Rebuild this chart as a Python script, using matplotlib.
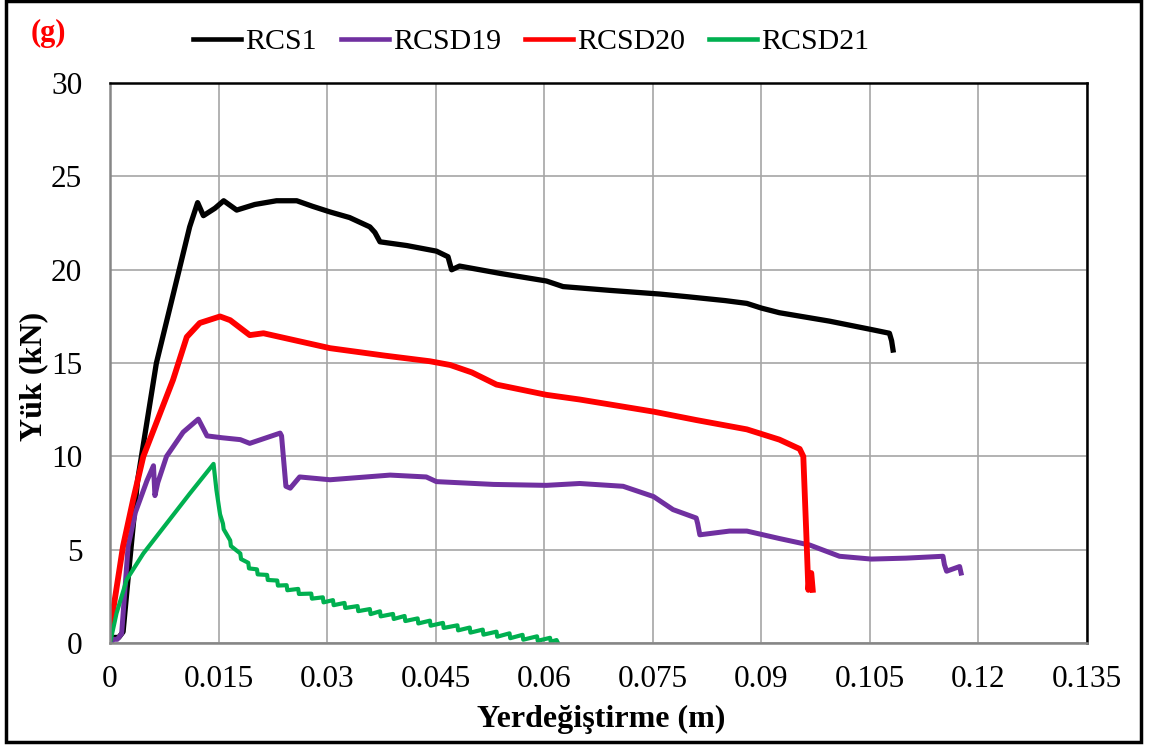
import matplotlib
matplotlib.use("Agg")
import matplotlib.pyplot as plt
from matplotlib.ticker import MultipleLocator, FuncFormatter
from matplotlib.patches import Rectangle

plt.rcParams['font.family'] = ['Liberation Serif', 'DejaVu Serif']

# --- values (displacement m, load kN) ---
rcs1_x = [0.0, 0.0004, 0.0012, 0.0018, 0.0025, 0.0038, 0.0064, 0.0088, 0.0110, 0.0121,
          0.0129, 0.0145, 0.0157, 0.0175, 0.0200, 0.0230, 0.0258, 0.0280, 0.0304, 0.0331,
          0.0359, 0.0366, 0.0373, 0.0410, 0.0451, 0.0467, 0.0472, 0.0483, 0.0540, 0.0603,
          0.0626, 0.0690, 0.0760, 0.0800, 0.0850, 0.0880, 0.0900, 0.0925, 0.0994, 0.1052,
          0.1077, 0.1080, 0.1082]
rcs1_y = [0.0, 0.3, 0.3, 0.6, 3.5, 8.7, 15.0, 18.8, 22.3, 23.6,
          22.9, 23.3, 23.7, 23.2, 23.5, 23.7, 23.7, 23.4, 23.1, 22.8,
          22.3, 22.0, 21.5, 21.3, 21.0, 20.7, 20.0, 20.2, 19.8, 19.4,
          19.1, 18.9, 18.7, 18.55, 18.35, 18.2, 17.95, 17.7, 17.25, 16.8,
          16.6, 16.2, 15.7]

rcsd19_x = [0.0, 0.0005, 0.0010, 0.0016, 0.0025, 0.0035, 0.0051, 0.0060, 0.0062, 0.0066,
            0.0078, 0.0101, 0.0122, 0.0134, 0.0155, 0.0180, 0.0193, 0.0235, 0.0237, 0.0243,
            0.0249, 0.0262, 0.0304, 0.0387, 0.0437, 0.0451, 0.0530, 0.0603, 0.0649, 0.0709,
            0.0751, 0.0778, 0.0810, 0.0812, 0.0815, 0.0856, 0.0880, 0.0925, 0.0967, 0.1008,
            0.1052, 0.1100, 0.1151, 0.1153, 0.1156, 0.1174, 0.1176]
rcsd19_y = [0.0, 0.2, 0.2, 0.5, 5.2, 7.0, 8.7, 9.5, 7.9, 8.6,
            10.0, 11.3, 12.0, 11.1, 11.0, 10.9, 10.7, 11.25, 11.1, 8.4,
            8.3, 8.9, 8.75, 9.0, 8.9, 8.65, 8.5, 8.45, 8.55, 8.4,
            7.85, 7.15, 6.7, 6.4, 5.8, 6.0, 6.0, 5.6, 5.25, 4.65,
            4.5, 4.55, 4.65, 4.2, 3.85, 4.1, 3.75]

rcsd20_x = [0.0, 0.0002, 0.0018, 0.0032, 0.0046, 0.0087, 0.0106, 0.0124, 0.0152, 0.0166,
            0.0193, 0.0212, 0.0304, 0.0380, 0.0442, 0.0470, 0.0500, 0.0534, 0.0603, 0.0649,
            0.0751, 0.0810, 0.0880, 0.0925, 0.0953, 0.0958, 0.0962, 0.0965, 0.0967, 0.0969,
            0.0971]
rcsd20_y = [0.3, 1.2, 5.2, 7.7, 10.0, 14.1, 16.4, 17.15, 17.5, 17.3,
            16.5, 16.6, 15.8, 15.4, 15.1, 14.9, 14.5, 13.85, 13.3, 13.05,
            12.4, 11.95, 11.45, 10.9, 10.4, 10.0, 6.0, 2.85, 3.7, 3.75,
            2.85]

# green curve: peaks and the small notches after each one, as seen in the picture
rcsd21_x = [0.0, 0.0009, 0.0023, 0.0046, 0.0064, 0.0110, 0.0143, 0.0147, 0.0152,
            0.0156, 0.0157, 0.0166, 0.0167, 0.0180, 0.0181, 0.0191, 0.0192,
            0.0203, 0.0204, 0.0217, 0.0218, 0.0231, 0.0232, 0.0244, 0.0245,
            0.0260, 0.0261, 0.0278, 0.0279, 0.0294, 0.0295, 0.0308, 0.0309,
            0.0324, 0.0325, 0.0342, 0.0343, 0.0359, 0.0360, 0.0373, 0.0374,
            0.0391, 0.0392, 0.0407, 0.0408, 0.0425, 0.0426, 0.0442, 0.0443,
            0.0460, 0.0461, 0.0480, 0.0481, 0.0497, 0.0498, 0.0515, 0.0516,
            0.0534, 0.0535, 0.0552, 0.0553, 0.0570, 0.0571, 0.0590, 0.0591,
            0.0608, 0.0609, 0.0617, 0.0619]
rcsd21_y = [0.0, 1.6, 3.4, 4.8, 5.7, 8.0, 9.6, 8.2, 6.9,
            6.4, 6.1, 5.5, 5.2, 4.8, 4.5, 4.3, 4.0,
            3.95, 3.68, 3.65, 3.38, 3.35, 3.08, 3.1, 2.83,
            2.9, 2.63, 2.65, 2.38, 2.45, 2.18, 2.3, 2.03,
            2.15, 1.88, 1.98, 1.71, 1.82, 1.55, 1.70, 1.43,
            1.56, 1.29, 1.45, 1.18, 1.32, 1.05, 1.20, 0.93,
            1.08, 0.81, 0.95, 0.68, 0.83, 0.56, 0.72, 0.45,
            0.61, 0.34, 0.52, 0.26, 0.44, 0.18, 0.36, 0.12,
            0.28, 0.07, 0.16, 0.0]

names = ['RCS1', 'RCSD19', 'RCSD20', 'RCSD21']
colors = ['#000000', '#7030A0', '#FF0000', '#00B050']
widths = [3.8, 3.6, 4.2, 3.0]
series = [(rcs1_x, rcs1_y), (rcsd19_x, rcsd19_y), (rcsd20_x, rcsd20_y), (rcsd21_x, rcsd21_y)]

fig = plt.figure(figsize=(11.5, 7.46), dpi=100)
ax = fig.add_axes([0.0957, 0.138, 0.8495, 0.7505])

for (xs, ys), name, col, w in zip(series, names, colors, widths):
    ax.plot(xs, ys, color=col, lw=w, label=name, solid_joinstyle='round')

ax.set_xlim(0, 0.135)
ax.set_ylim(0, 30)
ax.xaxis.set_major_locator(MultipleLocator(0.015))
ax.yaxis.set_major_locator(MultipleLocator(5))
ax.xaxis.set_major_formatter(FuncFormatter(lambda v, p: '{:g}'.format(round(v, 3))))
ax.grid(True, color='#a6a6a6', lw=1.2)
ax.set_axisbelow(True)
ax.tick_params(length=0, labelsize=22.5)
ax.tick_params(axis='x', pad=16)
ax.tick_params(axis='y', pad=20)
for s in ['left', 'bottom']:
    ax.spines[s].set_color('#868686')
    ax.spines[s].set_linewidth(1.8)
for s in ['top', 'right']:
    ax.spines[s].set_color('black')
    ax.spines[s].set_linewidth(1.8)

fig.text(0.523, 0.035, 'Yerdeğiştirme (m)', ha='center', va='center', fontsize=23, fontweight='bold')
fig.text(0.029, 0.495, 'Yük (kN)', ha='center', va='center', rotation=90, fontsize=23, fontweight='bold')
fig.text(0.042, 0.955, '(g)', ha='center', va='center', fontsize=22, fontweight='bold', color='red')

leg = fig.legend(loc='center', bbox_to_anchor=(0.462, 0.944), ncol=4, frameon=False,
                 fontsize=21.5, handlelength=1.6, handletextpad=0.15, columnspacing=0.8)
for h in leg.legend_handles:
    h.set_linewidth(3.3)

fig.patches.append(Rectangle((0.005, 0.006), 0.987, 0.992, transform=fig.transFigure,
                             fill=False, edgecolor='black', lw=2.5))

fig.savefig('out.png', dpi=100)
